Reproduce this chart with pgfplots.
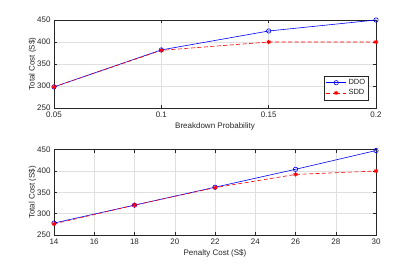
\documentclass[border=0pt]{standalone}
\usepackage{fontspec}
\setmainfont{Liberation Sans}
\usepackage{pgfplots}
\pgfplotsset{compat=1.18}
\definecolor{axgray}{gray}{0.15}
\definecolor{gridgray}{gray}{0.88}
\begin{document}
\begin{tikzpicture}
\useasboundingbox (0pt,0pt) rectangle (415pt,270pt);
\pgfplotsset{
  myax/.style={
    scale only axis,
    anchor=south west,
    width=322pt,
    font=\fontsize{8}{9}\selectfont,
    /pgf/number format/assume math mode=true,
    axis line style={axgray, line width=0.5pt},
    every tick/.style={axgray, line width=0.5pt},
    major tick length=3pt,
    tick align=inside,
    grid=major,
    major grid style={gridgray, line width=0.5pt},
    ticklabel style={text=axgray, font=\fontsize{8}{9}\selectfont},
    label style={text=axgray, font=\fontsize{8}{9}\selectfont},
    ymin=250, ymax=450,
    ytick={250,300,350,400,450},
    ylabel={Total Cost (S\$)},
    ylabel style={yshift=-6pt},
    xlabel style={yshift=1pt},
  },
  ddo/.style={blue, line width=0.6pt, mark=o, mark size=2.2pt, mark options={solid}},
  sdd/.style={red, line width=0.6pt, dashed, dash pattern=on 4pt off 2.5pt, mark=asterisk, mark size=2.2pt, mark options={solid, line width=1pt}},
}
\begin{axis}[myax, at={(54pt,162pt)}, height=88pt,
  xmin=0.05, xmax=0.2,
  xtick={0.05,0.1,0.15,0.2},
  xticklabels={0.05,0.1,0.15,0.2},
  xlabel={Breakdown Probability},
  legend style={at={(0.978,0.09)}, anchor=south east, draw=axgray, line width=0.5pt, font=\fontsize{7.5}{8}\selectfont, text=axgray, inner sep=1.5pt, row sep=-0.5pt},
  legend image post style={},
  legend cell align=left,
  legend image code/.code={\draw[#1] (0pt,0pt) -- (10pt,0pt) plot coordinates {(10pt,0pt)} -- (20pt,0pt);},
]
\addplot[ddo] coordinates {(0.05,298) (0.1,382) (0.15,425) (0.2,450)};
\addlegendentry{DDO}
\addplot[sdd] coordinates {(0.05,298) (0.1,381) (0.15,400) (0.2,400)};
\addlegendentry{SDD}
\end{axis}
\begin{axis}[myax, at={(54pt,35pt)}, height=85.3pt,
  xmin=14, xmax=30,
  xtick={14,16,...,30},
  xlabel={Penalty Cost (S\$)},
]
\addplot[ddo] coordinates {(14,278) (18,320) (22,362) (26,404) (30,448)};
\addplot[sdd] coordinates {(14,276) (18,320) (22,361) (26,392) (30,400)};
\end{axis}
\end{tikzpicture}
\end{document}
